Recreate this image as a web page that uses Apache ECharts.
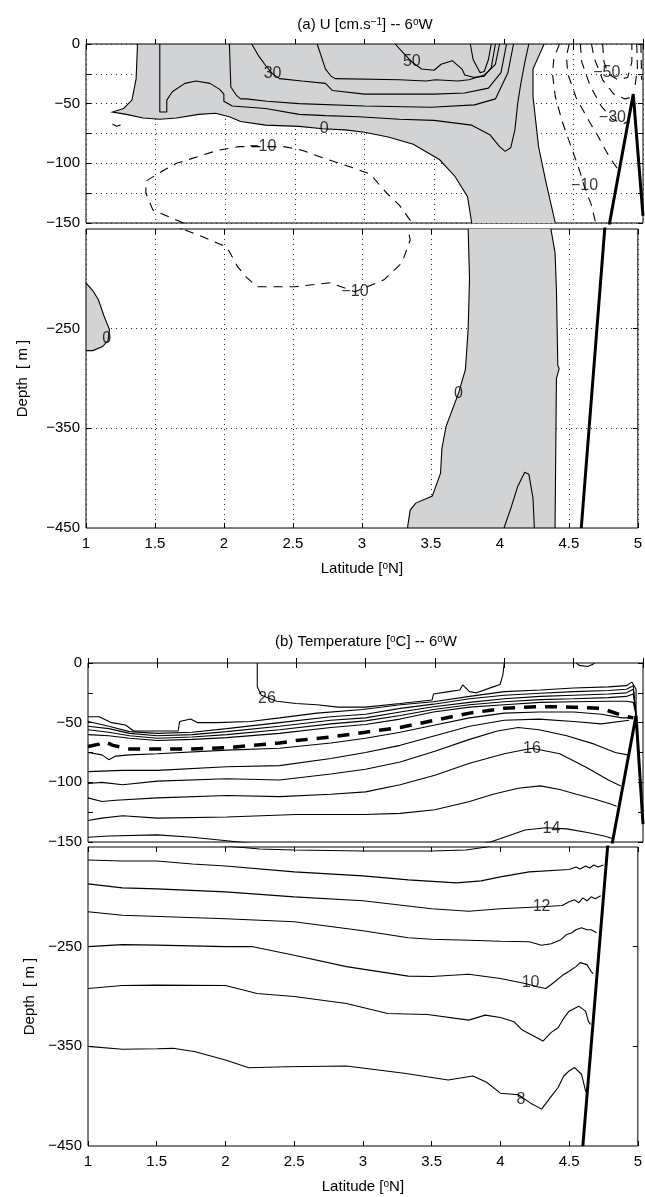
<!DOCTYPE html>
<html>
<head>
<meta charset="utf-8">
<script src="https://cdn.jsdelivr.net/npm/echarts@6/dist/echarts.min.js"></script>
<style>
  html, body { margin: 0; padding: 0; background: #fff; }
  #chart { width: 645px; height: 1197px; }
</style>
</head>
<body>
<div id="chart"></div>
<script>
// ---- panel (a): zonal velocity U, [lat, depth] pairs ----
const uShadeMain = [[1.37,0],[1.36,-29],[1.33,-47],[1.27,-54],[1.19,-57],[1.29,-59],[1.41,-62],[1.53,-63],[1.65,-62],[1.81,-59],[1.93,-58],[2.03,-61],[2.11,-65],[2.29,-68],[2.53,-69],[2.70,-71],[2.86,-72],[3.0,-74],[3.17,-78],[3.35,-84],[3.54,-97],[3.65,-111],[3.74,-128],[3.77,-150],[3.78,-200],[3.77,-251],[3.75,-291],[3.70,-315],[3.61,-348],[3.58,-370],[3.57,-395],[3.51,-418],[3.39,-425],[3.35,-432],[3.33,-450],[4.40,-450],[4.41,-300],[4.43,-290],[4.42,-287],[4.41,-211],[4.40,-174],[4.37,-150],[4.30,-114],[4.25,-86],[4.21,-44],[4.21,-21],[4.29,0]];
const uShadeBlob = [[1.0,-204],[1.05,-212],[1.09,-221],[1.13,-237],[1.17,-251],[1.16,-262],[1.12,-268],[1.05,-272],[1.0,-272]];

const u10 = [[1.53,0],[1.53,-57],[1.58,-57],[1.58,-47],[1.62,-40],[1.71,-33],[1.79,-31],[1.89,-33],[1.96,-38],[1.99,-42],[1.99,-48],[2.05,-52],[2.29,-54],[2.53,-59],[2.72,-60],[2.96,-61],[3.25,-63],[3.50,-64],[3.77,-68],[3.90,-76],[3.97,-86],[4.01,-90],[4.05,-87],[4.08,-72],[4.10,-50],[4.12,-35],[4.15,-16],[4.18,0]];
const u20 = [[2.03,0],[2.04,-36],[2.08,-43],[2.11,-46],[2.15,-46],[2.3,-48],[2.53,-50],[3.0,-52],[3.48,-53],[3.79,-51],[3.94,-46],[4.03,-24],[4.07,0]];
const u30 = [[2.19,0],[2.24,-10],[2.29,-18],[2.34,-25],[2.39,-29],[2.55,-31],[2.72,-33],[2.77,-39],[3.0,-42],[3.25,-42],[3.5,-42],[3.72,-41],[3.89,-37],[3.98,-24],[4.02,0]];
const u40 = [[2.66,0],[2.72,-21],[2.76,-27],[2.79,-29],[3.25,-30],[3.44,-31],[3.51,-30],[3.67,-31],[3.75,-30],[3.86,-26],[3.94,-17],[3.97,0]];
const u50 = [[3.22,0],[3.29,-9],[3.34,-15],[3.41,-21],[3.50,-22],[3.55,-17],[3.63,-14],[3.70,-21],[3.72,-26],[3.79,-28],[3.86,-27],[3.91,-20],[3.94,0]];
const u60 = [[3.76,0],[3.78,-13],[3.83,-24],[3.86,-23],[3.89,-13],[3.91,0]];
const u10deep = [[4.03,-450],[4.08,-430],[4.13,-408],[4.18,-394],[4.21,-396],[4.24,-420],[4.25,-450]];

const uNeg10Loop = [[1.70,-150],[1.48,-139],[1.43,-125],[1.43,-115],[1.54,-107],[1.65,-100],[1.95,-89],[2.10,-86],[2.42,-86],[2.55,-89],[2.74,-97],[2.90,-103],[3.04,-109],[3.16,-125],[3.25,-135],[3.33,-148],[3.35,-161],[3.29,-184],[3.16,-201],[2.95,-213],[2.77,-204],[2.51,-208],[2.24,-208],[2.16,-198],[2.10,-188],[2.02,-168],[1.85,-158],[1.70,-150]];
const uNeg10Small = [[1.19,-67],[1.22,-69],[1.27,-67]];
const uNeg10East = [[4.40,0],[4.36,-12],[4.35,-25],[4.37,-44],[4.42,-65],[4.49,-88],[4.55,-108],[4.58,-120],[4.63,-135],[4.66,-150]];
const uNeg20 = [[4.47,0],[4.45,-10],[4.46,-25],[4.52,-45],[4.60,-62],[4.68,-78],[4.76,-95],[4.82,-105]];
const uNeg30 = [[4.55,0],[4.56,-15],[4.62,-35],[4.70,-52],[4.78,-63],[4.86,-67],[4.89,-65]];
const uNeg40 = [[4.63,0],[4.65,-12],[4.71,-30],[4.79,-42],[4.87,-46],[4.91,-45]];
const uNeg50 = [[4.71,0],[4.72,-15],[4.75,-25],[4.82,-30],[4.89,-28],[4.92,-15],[4.92,0]];
const uNegCoastA = [[4.955,0],[4.96,-20],[4.94,-38]];
const uNegCoastB = [[4.985,0],[4.99,-30]];
const uCoast = [[5.0,-144],[4.93,-42],[4.76,-150],[4.59,-450]];

const uLabels = [[2.34,-25,'30'],[3.34,-15,'50'],[2.71,-71,'0'],[2.27,-86,'\u221210'],[4.74,-24,'\u221250'],[4.78,-62,'\u221230'],[4.58,-119,'\u221210'],[2.95,-213,'\u221210'],[1.15,-260,'0'],[3.70,-315,'0']];

// ---- panel (b): temperature isotherms ----
const t26 = [[2.22,0],[2.22,-20],[2.25,-27],[2.36,-32],[2.5,-34],[2.65,-35],[2.8,-37],[3.0,-37],[3.25,-34],[3.48,-31],[3.49,-26],[3.6,-24],[3.68,-22.6],[3.70,-18.4],[3.75,-24],[3.80,-25],[3.92,-20],[3.97,-18],[3.99,-10],[4.0,0]];
const t26east = [[4.52,0],[4.54,-2],[4.60,-3],[4.64,-1],[4.65,0]];
const t25 = [[1.0,-45],[1.08,-45],[1.17,-50],[1.27,-52],[1.33,-57],[1.65,-57],[1.66,-49],[1.70,-48],[1.74,-47],[1.79,-50],[1.93,-50],[2.17,-49],[2.38,-46],[2.65,-42],[2.98,-39],[3.25,-35],[3.49,-32.5],[3.75,-28],[4.0,-24],[4.26,-22.6],[4.5,-21],[4.75,-20],[4.88,-19],[4.92,-16],[4.95,-22],[4.95,-44]];
const t24 = [[1.0,-49],[1.15,-53],[1.3,-57.5],[1.5,-59],[1.75,-58],[2.0,-55],[2.38,-50],[2.75,-45],[3.0,-43],[3.25,-38],[3.49,-34.5],[3.75,-30],[4.0,-27],[4.26,-25.4],[4.5,-24],[4.75,-23],[4.88,-22],[4.93,-19],[4.95,-44]];
const t23 = [[1.0,-53],[1.15,-55],[1.3,-59],[1.5,-61],[1.75,-60],[2.0,-57.5],[2.38,-53],[2.75,-48],[3.0,-46],[3.25,-41],[3.49,-36.7],[3.75,-33],[4.0,-30],[4.26,-28],[4.5,-27],[4.75,-26],[4.88,-25],[4.93,-22],[4.95,-44]];
const t22 = [[1.0,-56],[1.15,-58],[1.3,-61],[1.5,-63],[1.75,-62],[2.0,-60],[2.38,-56],[2.75,-51],[3.0,-48.5],[3.25,-44],[3.49,-39],[3.75,-35],[4.0,-32.5],[4.26,-30.7],[4.5,-30],[4.75,-29],[4.88,-28],[4.93,-26],[4.95,-44]];
const t21 = [[1.0,-60],[1.15,-61],[1.3,-63],[1.5,-65],[1.75,-64],[2.0,-62.5],[2.38,-59],[2.75,-54],[3.0,-51.5],[3.25,-47],[3.49,-41],[3.75,-37],[4.0,-35],[4.26,-33],[4.5,-32.5],[4.75,-32],[4.88,-32],[4.93,-33],[4.95,-44]];
const t20 = [[1.0,-70],[1.08,-68],[1.12,-66],[1.18,-69],[1.3,-72],[1.5,-72],[1.75,-72],[2.0,-71],[2.38,-67],[2.5,-65],[2.75,-62],[3.0,-58],[3.25,-54],[3.5,-48],[3.75,-42],[4.0,-38],[4.25,-36.5],[4.5,-37],[4.7,-38],[4.85,-44],[4.93,-46]];
const t19 = [[1.0,-75],[1.1,-77],[1.15,-81],[1.2,-78],[1.3,-77],[1.5,-76],[2.0,-73],[2.38,-71.5],[2.75,-67],[3.0,-63],[3.25,-58],[3.5,-52],[3.75,-46],[4.0,-42],[4.25,-41],[4.5,-41],[4.7,-43],[4.85,-46],[4.93,-46]];
const t18 = [[1.0,-91],[1.25,-90],[1.5,-90],[2.0,-87],[2.38,-86],[2.75,-80],[3.0,-75],[3.25,-69],[3.5,-61],[3.75,-53],[4.0,-48],[4.25,-47],[4.5,-49],[4.7,-51],[4.9,-48]];
const t17 = [[1.0,-101],[1.1,-100],[1.25,-102],[1.5,-99],[2.0,-97],[2.38,-98],[2.75,-93],[3.0,-89],[3.25,-83],[3.5,-74],[3.75,-64],[3.95,-57],[4.1,-54],[4.25,-56],[4.45,-61],[4.65,-68],[4.8,-75],[4.89,-77]];
const t16 = [[1.0,-113],[1.1,-116],[1.2,-115],[1.5,-113],[2.0,-111],[2.38,-112],[2.75,-110],[3.0,-108],[3.25,-102],[3.5,-94],[3.75,-84],[4.0,-76],[4.2,-71.5],[4.4,-76],[4.6,-88],[4.75,-98],[4.84,-103]];
const t15 = [[1.0,-132],[1.1,-130],[1.25,-128],[1.5,-130],[2.0,-129],[2.5,-127],[3.0,-127],[3.25,-126],[3.5,-123],[3.75,-116],[3.92,-110],[4.1,-105],[4.26,-103],[4.4,-106],[4.52,-110],[4.65,-114],[4.76,-118],[4.81,-120]];
const t14 = [[1.0,-146],[1.15,-145],[1.5,-144],[1.75,-146],[2.0,-149],[2.25,-152],[2.5,-153],[3.0,-154],[3.5,-154],[3.75,-153],[3.9,-150],[4.0,-146],[4.15,-140],[4.3,-138],[4.45,-139],[4.6,-142],[4.72,-145],[4.78,-147]];
const t13 = [[1.0,-163],[1.25,-164],[1.5,-164],[1.76,-167],[2.0,-169],[2.5,-175],[3.0,-179],[3.33,-183],[3.68,-186],[3.86,-184],[4.0,-180],[4.21,-175],[4.5,-172.5],[4.55,-170],[4.58,-172],[4.62,-169],[4.65,-171],[4.68,-168],[4.71,-170],[4.75,-168]];
const t12 = [[1.0,-187],[1.25,-191],[1.5,-192],[2.0,-195],[2.5,-200],[3.0,-204],[3.5,-212],[3.77,-214.5],[4.0,-212],[4.3,-210],[4.45,-208.7],[4.5,-205],[4.54,-203],[4.57,-206],[4.6,-201],[4.63,-204],[4.66,-200],[4.69,-202],[4.73,-199]];
const t11 = [[1.0,-215],[1.25,-218.5],[2.0,-222],[2.5,-225],[3.0,-234],[3.33,-241],[3.5,-242.5],[3.77,-243.5],[4.0,-244.5],[4.21,-245],[4.3,-248.5],[4.37,-247],[4.44,-243],[4.48,-238],[4.52,-236],[4.55,-233],[4.59,-231],[4.63,-233],[4.66,-233],[4.70,-236]];
const t10 = [[1.0,-250],[1.25,-248],[1.5,-248.5],[2.0,-250],[2.2,-250],[2.5,-258.6],[2.88,-270],[3.33,-279.6],[3.5,-280],[3.77,-277.6],[4.0,-282],[4.18,-287],[4.26,-290],[4.33,-292],[4.37,-288],[4.40,-284.7],[4.45,-279],[4.5,-274.7],[4.55,-270],[4.58,-266],[4.63,-268],[4.66,-275],[4.675,-277]];
const t9 = [[1.0,-292],[1.25,-289],[1.5,-288.6],[2.0,-289],[2.23,-297],[2.5,-300],[2.88,-307],[3.18,-317],[3.47,-318],[3.77,-323.7],[3.89,-318.7],[4.0,-321],[4.1,-325.4],[4.16,-333.7],[4.31,-344.7],[4.37,-336],[4.42,-331.3],[4.46,-322],[4.5,-314.7],[4.57,-309.7],[4.62,-314.7],[4.64,-324.7],[4.655,-328]];
const t8 = [[1.0,-350],[1.25,-353],[1.5,-352.5],[1.62,-352],[1.78,-355.4],[2.0,-363.8],[2.17,-371.5],[2.44,-370.5],[2.88,-369.8],[3.30,-377],[3.62,-383.8],[3.80,-379.8],[3.9,-386],[4.0,-397],[4.13,-398.6],[4.22,-407],[4.30,-413],[4.36,-402],[4.42,-391.3],[4.46,-380],[4.5,-374.7],[4.54,-371.3],[4.59,-378],[4.62,-394.7],[4.63,-397]];
const tCoast = [[5.0,-135],[4.95,-44],[4.78,-150],[4.60,-450]];

const tLabels = [[2.29,-30,'26'],[4.20,-71.5,'16'],[4.34,-138.5,'14'],[4.30,-210,'12'],[4.22,-286,'10'],[4.15,-403,'8']];

const deepLabelTicks = [-450, -350, -250];
const deepTicks = [-350, -250];

// ---- layout: 0 a-top, 1 a-deep, 2 b-top, 3 b-deep ----
const boxes = [
  { left: 86, top: 44, width: 557, height: 179 },
  { left: 86, top: 229, width: 557, height: 299 },
  { left: 88, top: 663, width: 555, height: 179 },
  { left: 88, top: 847, width: 555, height: 299 }
];
const FONT = 'Liberation Sans, Arial, Helvetica, sans-serif';
const minus = v => String(v).replace('-', '\u2212');
const dotted = { show: true, lineStyle: { color: '#333', width: 1, type: [1, 4] } };
const supRich = { s: { fontSize: 10, lineHeight: 10, verticalAlign: 'top', fontFamily: FONT, color: '#000' } };

const grid = [], xAxis = [], yAxis = [];
boxes.forEach(function (b, i) {
  const isA = i < 2, deep = i % 2 === 1;
  grid.push(Object.assign({ show: true, borderColor: '#000', borderWidth: 1, backgroundColor: 'transparent' }, b));
  xAxis.push({
    type: 'value', gridIndex: i, min: 1, max: 5, interval: 0.5,
    axisLine: { show: false },
    axisTick: { show: true, inside: true, length: 5, lineStyle: { color: '#000' } },
    axisLabel: { show: deep, color: '#000', fontSize: 15, fontFamily: FONT, margin: 8 },
    splitLine: isA ? dotted : { show: false },
    name: deep ? 'Latitude [{s|o}N]' : '',
    nameLocation: 'middle', nameGap: 33,
    nameTextStyle: { color: '#000', fontSize: 15, fontFamily: FONT, rich: supRich }
  });
  yAxis.push({
    type: 'value', gridIndex: i,
    min: deep ? -450 : -150, max: deep ? -150 : 0,
    interval: deep ? undefined : 25,
    axisLine: { show: false },
    axisTick: deep ? { show: true, inside: true, length: 5, customValues: deepTicks, lineStyle: { color: '#000' } }
                   : { show: true, inside: true, length: 5, lineStyle: { color: '#000' } },
    axisLabel: deep ? { color: '#000', fontSize: 15, fontFamily: FONT, margin: 6, customValues: deepLabelTicks, formatter: minus }
                    : { color: '#000', fontSize: 15, fontFamily: FONT, margin: 6, formatter: v => (v % 50 === 0 ? minus(v) : '') },
    splitLine: isA ? dotted : { show: false },
    name: deep ? 'Depth  [ m ]' : '',
    nameLocation: 'middle', nameGap: isA ? 56 : 50, nameRotate: 90,
    nameTextStyle: { color: '#000', fontSize: 15, fontFamily: FONT }
  });
});
// ticks on top and right edges
boxes.forEach(function (b, i) {
  const deep = i % 2 === 1;
  xAxis.push({
    type: 'value', gridIndex: i, position: 'top', min: 1, max: 5, interval: 0.5,
    axisLine: { show: false }, axisLabel: { show: false }, splitLine: { show: false },
    axisTick: { show: true, inside: true, length: 5, lineStyle: { color: '#000' } }
  });
  yAxis.push({
    type: 'value', gridIndex: i, position: 'right',
    min: deep ? -450 : -150, max: deep ? -150 : 0, interval: deep ? undefined : 25,
    axisLine: { show: false }, axisLabel: { show: false }, splitLine: { show: false },
    axisTick: deep ? { show: true, inside: true, length: 5, customValues: deepTicks, lineStyle: { color: '#000' } }
                   : { show: true, inside: true, length: 5, lineStyle: { color: '#000' } }
  });
});

const series = [];
function addLine(pts, panel, style) {
  [0, 1].forEach(function (k) {
    const g = panel * 2 + k;
    series.push({
      type: 'line', xAxisIndex: g, yAxisIndex: g, data: pts,
      symbol: 'none', showSymbol: false, clip: true, silent: true, z: 3,
      lineStyle: Object.assign({ color: '#000', width: 1.1 }, style)
    });
  });
}
function addFill(pts, panel) {
  [0, 1].forEach(function (k) {
    const g = panel * 2 + k;
    series.push({
      type: 'custom', xAxisIndex: g, yAxisIndex: g, clip: true, silent: true, z: 1,
      data: pts,
      renderItem: function (params, api) {
        if (params.dataIndex !== 0) return null;
        return {
          type: 'polygon',
          shape: { points: pts.map(p => api.coord(p)) },
          style: { fill: '#d2d3d5', stroke: '#000', lineWidth: 1.1 }
        };
      }
    });
  });
}
function addLabels(items, panel) {
  [0, 1].forEach(function (k) {
    const g = panel * 2 + k;
    series.push({
      type: 'scatter', xAxisIndex: g, yAxisIndex: g, data: items, clip: true,
      symbolSize: 0, silent: true, z: 5,
      label: { show: true, position: 'inside', formatter: p => p.data[2], color: '#000', fontSize: 16, fontFamily: FONT }
    });
  });
}

const dash = { type: [9, 7] };
addFill(uShadeMain, 0);
addFill(uShadeBlob, 0);
[u10, u20, u30, u40, u50, u60, u10deep].forEach(c => addLine(c, 0, {}));
[uNeg10Loop, uNeg10Small, uNeg10East, uNeg20, uNeg30, uNeg40, uNeg50, uNegCoastA, uNegCoastB].forEach(c => addLine(c, 0, dash));
addLine(uCoast, 0, { width: 3 });
addLabels(uLabels, 0);

[t26, t26east, t25, t24, t23, t22, t21, t19, t18, t17, t16, t15, t14, t13, t12, t11, t10, t9, t8].forEach(c => addLine(c, 1, {}));
addLine(t20, 1, { width: 3.5, type: [12, 9] });
addLine(tCoast, 1, { width: 3 });
addLabels(tLabels, 1);

const chart = echarts.init(document.getElementById('chart'), null, { renderer: 'canvas' });
chart.setOption({
  animation: false,
  backgroundColor: '#fff',
  grid: grid,
  xAxis: xAxis,
  yAxis: yAxis,
  series: series,
  graphic: [
    { type: 'text', x: 365, y: 25, style: { text: '(a) U [cm.s{s|\u22121}] -- 6{s|o}W', fontSize: 15, fontFamily: FONT, fill: '#000', align: 'center', verticalAlign: 'middle', rich: supRich } },
    { type: 'text', x: 366, y: 642, style: { text: '(b) Temperature [{s|o}C] -- 6{s|o}W', fontSize: 15, fontFamily: FONT, fill: '#000', align: 'center', verticalAlign: 'middle', rich: supRich } }
  ]
});
</script>
</body>
</html>
